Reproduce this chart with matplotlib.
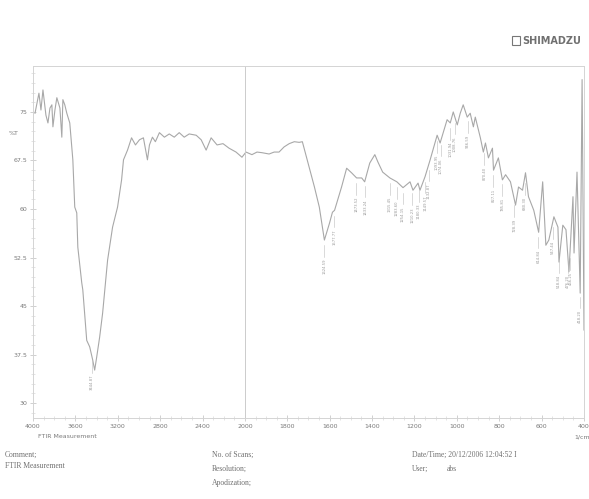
import numpy as np
import matplotlib
matplotlib.use("Agg")
import matplotlib.pyplot as plt
from matplotlib.patches import Rectangle
from matplotlib.transforms import offset_copy

# ---- data ----
wavenumber = [3981, 3944, 3925, 3906, 3878, 3859, 3840, 3822, 3812, 3793, 3775, 3746, 3728, 3718,
              3700, 3681, 3653, 3624, 3606, 3587, 3577, 3540, 3530, 3493, 3465, 3437, 3418, 3399,
              3371, 3343, 3296, 3249, 3202, 3164, 3146, 3108, 3070, 3033, 2995, 2958, 2920, 2901,
              2873, 2845, 2807, 2760, 2714, 2667, 2620, 2573, 2526, 2460, 2413, 2366, 2319, 2263,
              2207, 2150, 2084, 2028, 1995, 1967, 1943, 1919, 1886, 1862, 1839, 1815, 1791, 1767,
              1744, 1729, 1706, 1672, 1649, 1625, 1601, 1587, 1577, 1544, 1520, 1497, 1473, 1449,
              1435, 1411, 1387, 1373, 1350, 1316, 1283, 1254, 1221, 1207, 1183, 1174, 1150, 1126,
              1093, 1079, 1046, 1031, 1017, 998, 984, 970, 951, 937, 922, 913, 889, 875, 865, 851,
              832, 827, 804, 785, 770, 747, 723, 709, 690, 676, 662, 637, 614, 595, 580, 566, 542,
              523, 518, 500, 485, 471, 452, 447, 433, 418, 409, 400]
transmittance = [74.8, 77.9, 75.3, 78.4, 74.5, 73.3, 75.6, 76.1, 72.7, 75.3, 77.2, 75.6, 71.1, 76.9,
                 76.1, 74.8, 73.3, 67.6, 60.3, 59.4, 54.1, 48.6, 47.5, 39.7, 38.7, 36.7, 35.1, 37.1,
                 40.2, 43.9, 52.1, 57.2, 60.3, 64.5, 67.6, 69.1, 71.0, 69.9, 70.7, 71.0, 67.6, 69.9,
                 71.1, 70.4, 71.8, 71.1, 71.6, 71.1, 71.8, 71.1, 71.6, 71.4, 70.7, 69.1, 71.0, 69.9,
                 70.1, 69.4, 68.8, 68.0, 68.8, 68.4, 68.8, 68.7, 68.5, 68.8, 68.8, 69.6, 70.1, 70.4,
                 70.3, 70.4, 67.6, 63.4, 60.3, 55.2, 57.8, 59.5, 59.8, 63.4, 66.3, 65.6, 64.8, 64.8,
                 64.2, 67.1, 68.4, 67.3, 65.7, 64.8, 64.2, 63.3, 64.2, 62.9, 64.0, 62.9, 65.0, 67.6,
                 71.4, 70.2, 73.8, 73.3, 75.0, 73.0, 74.8, 76.1, 74.2, 74.8, 72.7, 74.2, 71.0, 68.8,
                 70.2, 67.9, 69.4, 66.0, 67.9, 64.5, 65.3, 64.2, 60.6, 63.4, 62.9, 65.6, 61.9, 59.8,
                 56.4, 64.2, 54.4, 55.2, 58.8, 57.2, 51.8, 57.5, 56.8, 50.3, 61.9, 53.2, 65.7, 47.0,
                 80.0, 41.3]

peak_labels = ["3444.87", "1624.59", "1577.77", "1473.52", "1433.24", "1315.45", "1283.60",
               "1254.15", "1210.23", "1180.33", "1149.57", "1132.87", "1093.95", "1074.06",
               "1031.94", "1008.76", "946.59", "870.40", "827.11", "785.81", "728.39", "680.30",
               "614.84", "547.44", "518.84", "476.20", "466.25", "418.20"]

x_major = [4000, 3600, 3200, 2800, 2400, 2000, 1800, 1600, 1400, 1200, 1000, 800, 600, 400]
y_major = [30, 37.5, 45, 52.5, 60, 67.5, 75]
y_labels = ["30", "37.5", "45", "52.5", "60", "67.5", "75"]

# ---- figure ----
W, H = 589, 499
fig = plt.figure(figsize=(W / 100, H / 100), dpi=100)
fig.patch.set_facecolor("white")

def px(x, y):
    return x / W, 1 - y / H

L, R, T, B = 33, 584, 66, 418
ax = fig.add_axes([L / W, 1 - B / H, (R - L) / W, (B - T) / H])

def fwd(x):
    x = np.asarray(x, dtype=float)
    return np.where(x <= 2000, x, 2000 + (x - 2000) / 2)

def inv(u):
    u = np.asarray(u, dtype=float)
    return np.where(u <= 2000, u, 2000 + (u - 2000) * 2)

ax.set_xscale("function", functions=(fwd, inv))
ax.set_xlim(4000, 400)
ax.set_ylim(27.7, 82.1)

line_col = "#a8a8a8"
txt_col = "#7a7a7a"
ax.plot(wavenumber, transmittance, color=line_col, lw=0.8)
ax.axvline(2000, color="#cccccc", lw=0.7)

for s in ax.spines.values():
    s.set_color("#d4d4d4")
    s.set_linewidth(0.7)

ax.set_xticks(x_major)
ax.set_xticklabels([str(v) for v in x_major])
minor = list(np.arange(2100, 4000, 100)) + list(np.arange(450, 2000, 50))
ax.set_xticks(minor, minor=True)
ax.set_yticks(y_major)
ax.set_yticklabels(y_labels)
ax.set_yticks(np.arange(28.5, 82, 1.5), minor=True)
ax.tick_params(axis="both", which="major", labelsize=4.5, colors="#bdbdbd",
               labelcolor=txt_col, length=4, width=0.5, direction="inout", pad=2)
ax.tick_params(axis="both", which="minor", colors="#d0d0d0", length=2.5, width=0.4,
               direction="inout")

ax.text(-0.035, 71.6, "%T", transform=ax.get_yaxis_transform(), fontsize=4.5,
        color=txt_col, ha="center", va="center")

# peak labels (texts nudged apart in pixels where they would collide)
fig.canvas.draw()
wn_arr = np.array(wavenumber[::-1], dtype=float)
tr_arr = np.array(transmittance[::-1], dtype=float)
peaks = [float(l) for l in peak_labels]
xs_disp = [ax.transData.transform((p, 50))[0] for p in peaks]
order = np.argsort(xs_disp)
placed = {}
min_gap = 4.6
last = -1e9
for i in order:
    xd = max(xs_disp[i], last + min_gap)
    placed[i] = xd - xs_disp[i]
    last = xd
# recentre clusters slightly
for i, lab in enumerate(peak_labels):
    p = peaks[i]
    yv = np.interp(p, wn_arr, tr_arr)
    ax.plot([p, p], [yv - 0.8, yv - 2.6], color="#bdbdbd", lw=0.4)
    dx_pt = placed[i] * 72 / 100 - (1.0 if placed[i] > 0 else 0)
    tr = offset_copy(ax.transData, fig=fig, x=dx_pt, y=0, units="points")
    ax.text(p, yv - 2.9, lab, rotation=90, fontsize=2.7, color="#9a9a9a",
            ha="center", va="top", transform=tr)

# texts under the chart
fig.text(*px(38, 437), "FTIR Measurement", fontsize=4.5, color=txt_col, va="center")
fig.text(*px(574, 437), "1/cm", fontsize=4.5, color=txt_col, va="center")

serif = "Liberation Serif"
sc = "#6f6f6f"
fig.text(*px(5, 455), "Comment;", fontsize=5.5, family=serif, color=sc, va="center")
fig.text(*px(5, 466), "FTIR Measurement", fontsize=5.5, family=serif, color=sc, va="center")
fig.text(*px(212, 455), "No. of Scans;", fontsize=5.5, family=serif, color=sc, va="center")
fig.text(*px(212, 469), "Resolution;", fontsize=5.5, family=serif, color=sc, va="center")
fig.text(*px(212, 483), "Apodization;", fontsize=5.5, family=serif, color=sc, va="center")
fig.text(*px(412, 455), "Date/Time; 20/12/2006 12:04:52 I", fontsize=5.5, family=serif,
         color=sc, va="center")
fig.text(*px(412, 469), "User;", fontsize=5.5, family=serif, color=sc, va="center")
fig.text(*px(447, 469), "abs", fontsize=5.5, family=serif, color=sc, va="center")

# SHIMADZU logo
fig.patches.append(Rectangle(px(512, 45), 8 / W, 9 / H, transform=fig.transFigure,
                             fill=False, ec="#777777", lw=0.8))
fig.text(*px(522, 41), "SHIMADZU", fontsize=7, fontweight="bold", color="#707070",
         va="center", family="DejaVu Sans")

fig.savefig("out.png", dpi=100, facecolor="white")
